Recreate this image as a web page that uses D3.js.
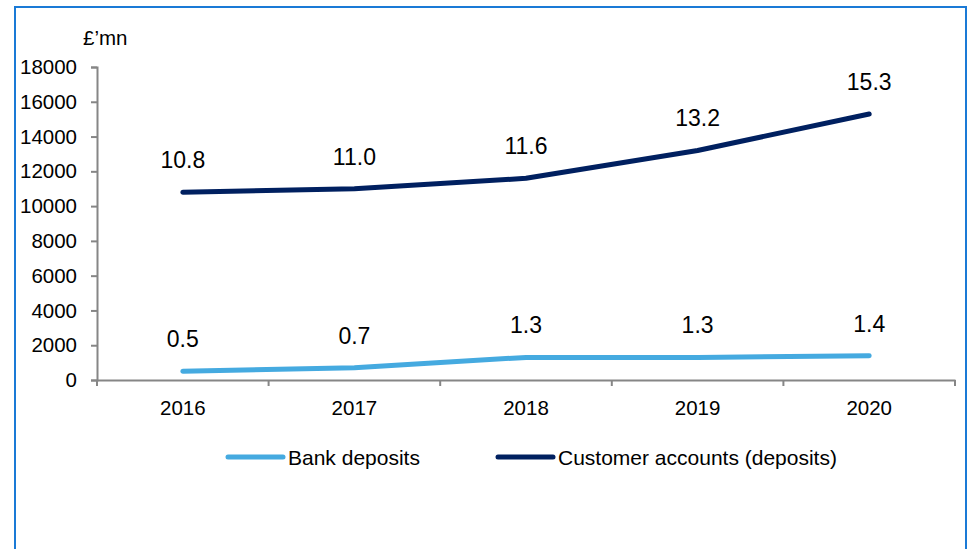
<!DOCTYPE html>
<html lang="en">
<head>
<meta charset="UTF-8">
<title>Deposits</title>
<script src="https://d3js.org/d3.v7.min.js"></script>
<style>
  body { margin: 0; background: #fff; }
  svg text { font-family: Arial, "Liberation Sans", sans-serif; fill: #000; }
</style>
</head>
<body>
<svg id="chart" width="968" height="549"></svg>
<script>
// data (£'mn)
var years = ["2016", "2017", "2018", "2019", "2020"];
var bankDeposits = [500, 700, 1300, 1300, 1400];
var customerAccounts = [10800, 11000, 11600, 13200, 15300];
var yTicks = [0, 2000, 4000, 6000, 8000, 10000, 12000, 14000, 16000, 18000];

var series = [
    { name: "Bank deposits", values: bankDeposits, color: "#45aae0" },
    { name: "Customer accounts (deposits)", values: customerAccounts, color: "#002060" }
];

var svg = d3.select("#chart");

// outer frame
svg.append("rect")
    .attr("x", 15).attr("y", 7)
    .attr("width", 951).attr("height", 560)
    .attr("fill", "none")
    .attr("stroke", "#1a7ad6")
    .attr("stroke-width", 2);

// plot area (note: "top" is a reserved global in browsers)
var plotLeft = 97, plotRight = 955, plotTop = 67, plotBottom = 380;

var x = d3.scaleBand().domain(years).range([plotLeft, plotRight]);
var y = d3.scaleLinear().domain([0, 18000]).range([plotBottom, plotTop]);

// y axis
var yAxis = svg.append("g")
    .attr("transform", "translate(" + plotLeft + ",0)")
    .call(d3.axisLeft(y).tickValues(yTicks).tickSize(6).tickPadding(14).tickFormat(d3.format("d")));
// x axis, ticks between the categories
var xAxis = svg.append("g")
    .attr("transform", "translate(0," + plotBottom + ")")
    .call(d3.axisBottom(x).tickSize(0).tickPadding(20));
xAxis.selectAll(".xb").data(d3.range(years.length + 1)).enter().append("line")
    .attr("x1", i => plotLeft + i * x.step()).attr("x2", i => plotLeft + i * x.step())
    .attr("y1", 0).attr("y2", 6);

[yAxis, xAxis].forEach(function(g) {
    g.select(".domain").attr("stroke", "#868686").attr("stroke-width", 2);
    g.selectAll("line").attr("stroke", "#868686").attr("stroke-width", 2);
    g.selectAll("text").style("font-size", "20.5px").attr("fill", "#000");
});

svg.append("text")
    .attr("x", 83).attr("y", 45)
    .style("font-size", "20.5px")
    .text("£’mn");

var line = d3.line()
    .x((d, i) => x(years[i]) + x.bandwidth() / 2)
    .y(d => y(d));

series.forEach(function(s) {
    svg.append("path")
        .datum(s.values)
        .attr("d", line)
        .attr("fill", "none")
        .attr("stroke", s.color)
        .attr("stroke-width", 5)
        .attr("stroke-linecap", "round")
        .attr("stroke-linejoin", "round");

    svg.selectAll(null)
        .data(s.values)
        .enter().append("text")
        .attr("x", (d, i) => x(years[i]) + x.bandwidth() / 2)
        .attr("y", d => y(d) - 24)
        .attr("text-anchor", "middle")
        .style("font-size", "23px")
        .text(d => d3.format(".1f")(d / 1000));
});

// legend
var legendX = [228, 498];
var legend = svg.selectAll(".legend")
    .data(series)
    .enter().append("g")
    .attr("transform", (d, i) => "translate(" + legendX[i] + ",457)");
legend.append("line")
    .attr("x1", 0).attr("x2", 55)
    .attr("stroke", d => d.color)
    .attr("stroke-width", 5)
    .attr("stroke-linecap", "round");
legend.append("text")
    .attr("x", 60).attr("y", 8)
    .style("font-size", "21px")
    .text(d => d.name);
</script>
</body>
</html>
